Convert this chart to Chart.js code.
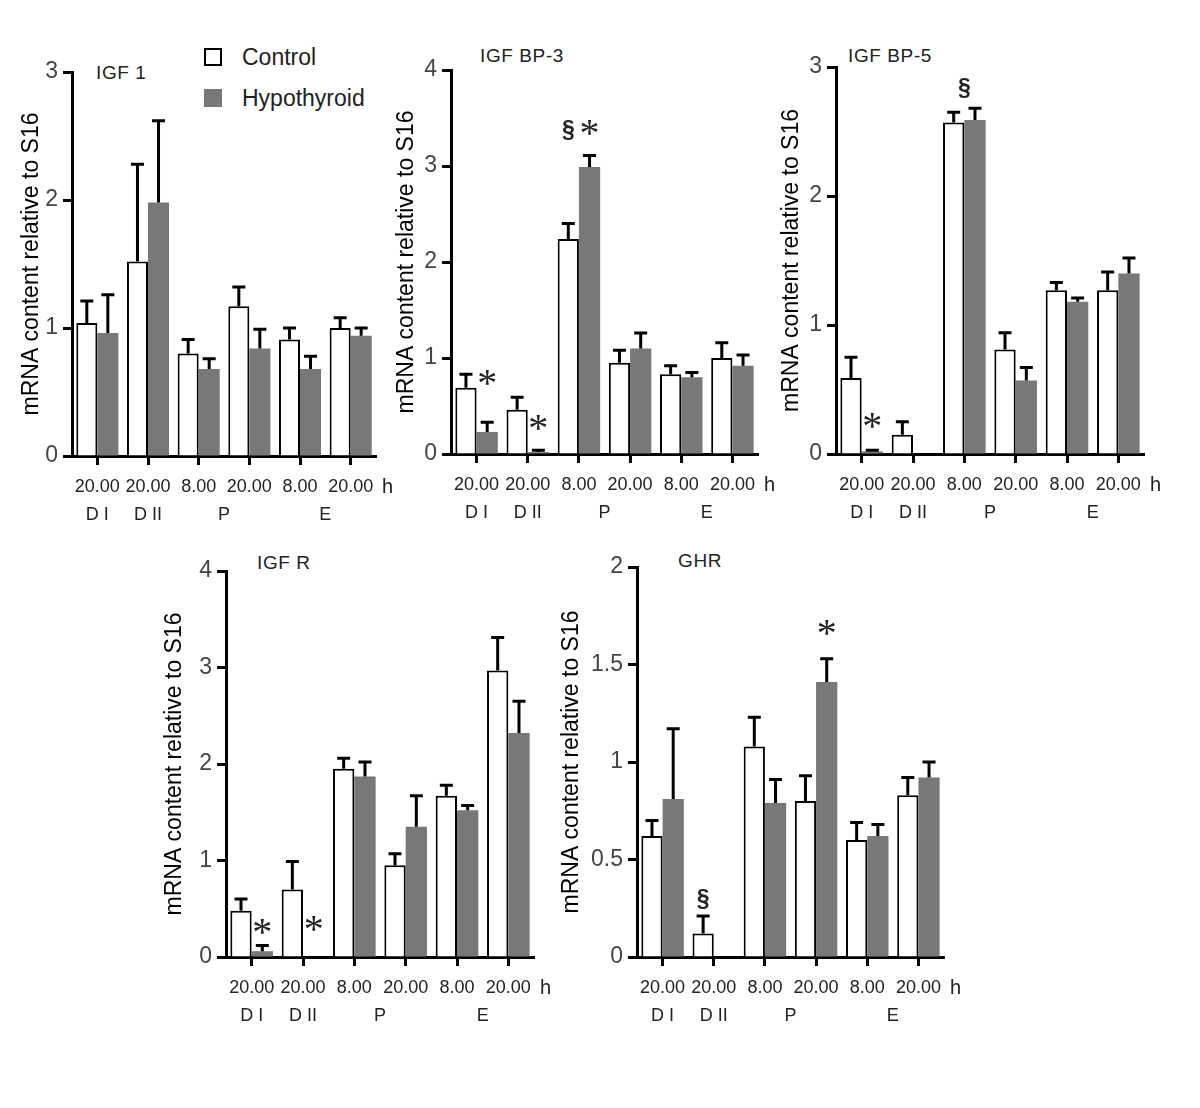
<!DOCTYPE html>
<html>
<head>
<meta charset="utf-8">
<script src="https://cdn.jsdelivr.net/npm/chart.js@4.4.0/dist/chart.umd.min.js"></script>
<style>
  body { margin: 0; background: #fff; width: 1200px; height: 1108px; position: relative; overflow: hidden;
         font-family: "Liberation Sans", Arial, sans-serif; }
  canvas { position: absolute; }
  .ttl { position: absolute; font-size: 19px; letter-spacing: 0.6px; color: #222; line-height: 1; transform: translateY(-50%); white-space: nowrap; }
  .lg-box { position: absolute; width: 18px; height: 18px; box-sizing: border-box; }
  .lg-txt { position: absolute; font-size: 23px; color: #222; line-height: 1; transform: translateY(-50%); white-space: nowrap; }
</style>
</head>
<body>

<div class="ttl" style="left:96px; top:72px;">IGF 1</div>
<div class="ttl" style="left:480px; top:55px;">IGF BP-3</div>
<div class="ttl" style="left:848px; top:55px;">IGF BP-5</div>
<div class="ttl" style="left:257px; top:562px;">IGF R</div>
<div class="ttl" style="left:678px; top:560px;">GHR</div>

<div class="lg-box" style="left:204px; top:48px; border:2px solid #000; background:#fff;"></div>
<div class="lg-txt" style="left:242px; top:57px;">Control</div>
<div class="lg-box" style="left:204px; top:89px; background:#787878;"></div>
<div class="lg-txt" style="left:242px; top:98px;">Hypothyroid</div>

<canvas id="c1"></canvas>
<canvas id="c2"></canvas>
<canvas id="c3"></canvas>
<canvas id="c4"></canvas>
<canvas id="c5"></canvas>

<script>
// categories
const timeLabels = ['20.00', '20.00', '8.00', '20.00', '8.00', '20.00'];
const phaseLabels = ['D I', 'D II', 'P', 'E'];
const phaseSpans = [[0, 0], [1, 1], [2, 3], [4, 5]];

// IGF 1
const igf1Control = [1.04, 1.52, 0.80, 1.17, 0.91, 1.00];
const igf1ControlSem = [0.17, 0.76, 0.11, 0.15, 0.09, 0.08];
const igf1Hypo = [0.96, 1.98, 0.68, 0.84, 0.68, 0.94];
const igf1HypoSem = [0.30, 0.64, 0.08, 0.15, 0.10, 0.06];
const igf1Marks = [];

// IGF BP-3
const bp3Control = [0.69, 0.46, 2.24, 0.95, 0.83, 1.00];
const bp3ControlSem = [0.14, 0.13, 0.16, 0.13, 0.09, 0.16];
const bp3Hypo = [0.23, 0.02, 2.99, 1.10, 0.80, 0.92];
const bp3HypoSem = [0.10, 0.02, 0.12, 0.16, 0.05, 0.11];
const bp3Marks = [
    { idx: 0, on: 'hypo', sym: '*', at: 0.80 },
    { idx: 1, on: 'hypo', sym: '*', at: 0.33 },
    { idx: 2, on: 'control', sym: '§', at: 3.38 },
    { idx: 2, on: 'hypo', sym: '*', at: 3.40 }
];

// IGF BP-5
const bp5Control = [0.59, 0.15, 2.57, 0.81, 1.27, 1.27];
const bp5ControlSem = [0.16, 0.10, 0.08, 0.13, 0.06, 0.14];
const bp5Hypo = [0.02, null, 2.59, 0.57, 1.18, 1.40];
const bp5HypoSem = [0.01, null, 0.09, 0.10, 0.03, 0.12];
const bp5Marks = [
    { idx: 0, on: 'hypo', sym: '*', at: 0.26 },
    { idx: 2, on: 'pair', sym: '§', at: 2.84 }
];

// IGF R
const igfrControl = [0.48, 0.70, 1.95, 0.95, 1.67, 2.97];
const igfrControlSem = [0.12, 0.29, 0.11, 0.12, 0.11, 0.34];
const igfrHypo = [0.06, null, 1.87, 1.35, 1.52, 2.32];
const igfrHypoSem = [0.06, null, 0.15, 0.32, 0.05, 0.33];
const igfrMarks = [
    { idx: 0, on: 'hypo', sym: '*', at: 0.32 },
    { idx: 1, on: 'hypo', sym: '*', at: 0.35 }
];

// GHR
const ghrControl = [0.62, 0.12, 1.08, 0.80, 0.60, 0.83];
const ghrControlSem = [0.08, 0.09, 0.15, 0.13, 0.09, 0.09];
const ghrHypo = [0.81, null, 0.79, 1.41, 0.62, 0.92];
const ghrHypoSem = [0.36, null, 0.12, 0.12, 0.06, 0.08];
const ghrMarks = [
    { idx: 1, on: 'control', sym: '§', at: 0.30 },
    { idx: 3, on: 'hypo', sym: '*', at: 1.69 }
];

const FONT = '"Liberation Sans", Arial, sans-serif';
const PAD_TOP = 20, PAD_RIGHT = 26, X_AXIS_H = 75, Y_TITLE_HALF = 14;

// error bars, significance marks, phase labels and the "h" unit
const decorPlugin = {
    id: 'decor',
    afterDatasetsDraw(chart, args, opts) {
        const ctx = chart.ctx;
        const ys = chart.scales.y;
        ctx.save();
        ctx.strokeStyle = '#000';
        ctx.lineWidth = 3;
        chart.data.datasets.forEach((ds, d) => {
            const meta = chart.getDatasetMeta(d);
            ds.data.forEach((v, i) => {
                const e = ds.sem[i];
                if (v == null || e == null) return;
                const bx = meta.data[i].x;
                const y0 = ys.getPixelForValue(v);
                const y1 = ys.getPixelForValue(v + e);
                ctx.beginPath();
                ctx.moveTo(bx, y0);
                ctx.lineTo(bx, y1);
                ctx.moveTo(bx - 6.5, y1);
                ctx.lineTo(bx + 6.5, y1);
                ctx.stroke();
            });
        });

        const ctrl = chart.getDatasetMeta(0).data;
        opts.marks.forEach(m => {
            const b = ctrl[m.idx];
            let mx = b.x;
            if (m.on === 'hypo') mx = b.x + b.width;
            if (m.on === 'pair') mx = b.x + b.width / 2;
            const my = ys.getPixelForValue(m.at);
            ctx.font = m.sym === '*' ? '40px "Liberation Serif", serif' : 'bold 23px ' + FONT;
            ctx.fillStyle = m.sym === '*' ? '#222' : '#222';
            ctx.textAlign = 'center';
            ctx.textBaseline = 'alphabetic';
            const tm = ctx.measureText(m.sym);
            const off = (tm.actualBoundingBoxAscent - tm.actualBoundingBoxDescent) / 2;
            ctx.fillText(m.sym, mx, my + off);
        });
        ctx.restore();
    },
    afterDraw(chart) {
        const ctx = chart.ctx;
        const xs = chart.scales.x;
        const base = chart.chartArea.bottom;
        ctx.save();
        ctx.fillStyle = '#222';
        ctx.textBaseline = 'middle';
        ctx.textAlign = 'center';
        ctx.font = '18px ' + FONT;
        phaseSpans.forEach((sp, k) => {
            const cx = (xs.getPixelForTick(sp[0]) + xs.getPixelForTick(sp[1])) / 2;
            ctx.fillText(phaseLabels[k], cx, base + 59);
        });
        ctx.textAlign = 'left';
        ctx.font = '20px ' + FONT;
        ctx.fillText('h', xs.right + 6, base + 31);
        ctx.restore();
    }
};

function makePanel(id, box, yMax, yStep, control, controlSem, hypo, hypoSem, marks) {
    const left = box.titleX - Y_TITLE_HALF;
    const top = box.top - PAD_TOP;
    const canvas = document.getElementById(id);
    canvas.width = box.right + PAD_RIGHT - left;
    canvas.height = box.bottom + X_AXIS_H - top;
    canvas.style.left = left + 'px';
    canvas.style.top = top + 'px';
    const yWidth = box.left - left;

    return new Chart(canvas, {
        type: 'bar',
        data: {
            labels: timeLabels,
            datasets: [{
                label: 'Control',
                data: control,
                sem: controlSem,
                backgroundColor: '#ffffff',
                borderColor: '#000000',
                borderWidth: 2,
                categoryPercentage: 0.83,
                barPercentage: 1.0
            }, {
                label: 'Hypothyroid',
                data: hypo,
                sem: hypoSem,
                backgroundColor: '#787878',
                borderWidth: 0,
                categoryPercentage: 0.83,
                barPercentage: 1.0
            }]
        },
        options: {
            responsive: false,
            animation: false,
            layout: { padding: { top: PAD_TOP, right: PAD_RIGHT, left: 0, bottom: 0 } },
            plugins: {
                legend: { display: false },
                tooltip: { enabled: false },
                decor: { marks: marks }
            },
            scales: {
                x: {
                    offset: true,
                    grid: { display: true, drawOnChartArea: false, offset: false, drawTicks: true,
                            tickLength: 9, tickWidth: 3, tickColor: '#000' },
                    border: { display: true, color: '#000', width: 3 },
                    ticks: { autoSkip: false, maxRotation: 0, padding: 11, color: '#222',
                             font: { family: FONT, size: 18 } },
                    afterFit: s => { s.height = X_AXIS_H; }
                },
                y: {
                    min: 0,
                    max: yMax,
                    grid: { display: true, drawOnChartArea: false, drawTicks: true,
                            tickLength: 9, tickWidth: 3, tickColor: '#000' },
                    border: { display: true, color: '#000', width: 3 },
                    ticks: { stepSize: yStep, padding: 5, color: '#444',
                             font: { family: FONT, size: 23 },
                             callback: v => String(v) },
                    title: { display: true, text: 'mRNA content relative to S16', color: '#000',
                             padding: 0, font: { family: FONT, size: 23 } },
                    afterFit: s => { s.width = yWidth; }
                }
            }
        },
        plugins: [decorPlugin]
    });
}

makePanel('c1', { left: 72, top: 72, right: 376, bottom: 456, titleX: 32 }, 3, 1,
    igf1Control, igf1ControlSem, igf1Hypo, igf1HypoSem, igf1Marks);
makePanel('c2', { left: 451, top: 70, right: 758, bottom: 454, titleX: 407 }, 4, 1,
    bp3Control, bp3ControlSem, bp3Hypo, bp3HypoSem, bp3Marks);
makePanel('c3', { left: 836, top: 67, right: 1144, bottom: 454, titleX: 792 }, 3, 1,
    bp5Control, bp5ControlSem, bp5Hypo, bp5HypoSem, bp5Marks);
makePanel('c4', { left: 226, top: 571, right: 534, bottom: 957, titleX: 175 }, 4, 1,
    igfrControl, igfrControlSem, igfrHypo, igfrHypoSem, igfrMarks);
makePanel('c5', { left: 637, top: 567, right: 944, bottom: 957, titleX: 572 }, 2, 0.5,
    ghrControl, ghrControlSem, ghrHypo, ghrHypoSem, ghrMarks);
</script>
</body>
</html>
